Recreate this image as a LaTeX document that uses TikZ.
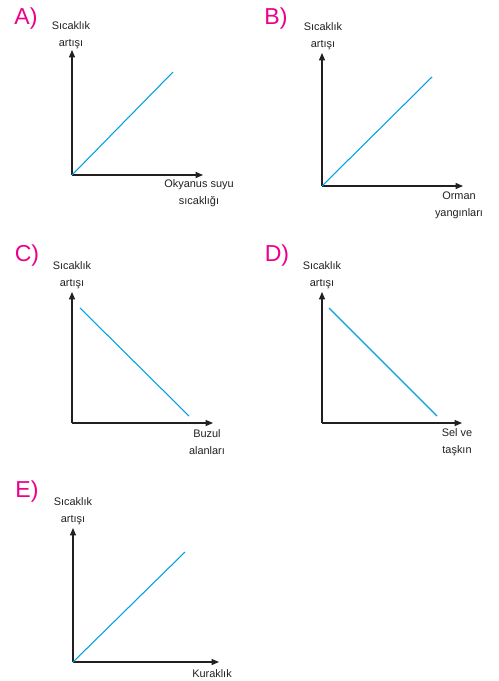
\documentclass[tikz,border=0pt]{standalone}
\usepackage{fontspec}
\setmainfont{Liberation Sans}
\usetikzlibrary{arrows.meta}
\definecolor{optpink}{RGB}{236,0,140}
\definecolor{graphblue}{RGB}{0,160,227}
\definecolor{axisgray}{RGB}{35,31,32}
\tikzset{
  axis/.style={draw=axisgray,line width=0.8pt,-{Triangle[length=5.5pt,width=4.5pt]}},
  trend/.style={draw=graphblue,line width=0.8pt},
  lbl/.style={align=center,inner sep=0pt,font=\fontsize{8.2}{12.75}\selectfont,text=axisgray},
  optletter/.style={inner sep=0pt,font=\fontsize{17.3}{19}\selectfont,text=optpink}
}
\begin{document}
\begin{tikzpicture}[x=0.75pt,y=-0.75pt]
\useasboundingbox (0,0) rectangle (499,681);

%%% A %%%
\node [optletter] at (26,18.5) (letterA) {A)};
\node [lbl] at (71,35) (ylabA) {Sıcaklık\\artışı};
\node [lbl] at (199,193.5) (xlabA) {Okyanus suyu\\sıcaklığı};
\coordinate (oA) at (72,175);
\coordinate (yA) at (72,50);
\coordinate (xA) at (203,175);
\coordinate (eA) at (173,72);
\draw [axis] (oA) -- (yA);
\draw [axis] (oA) -- (xA);
\draw [trend] (oA) -- (eA);

%%% B %%%
\node [optletter] at (276,18.5) (letterB) {B)};
\node [lbl] at (323,36.5) (ylabB) {Sıcaklık\\artışı};
\node [lbl] at (459,205.5) (xlabB) {Orman\\yangınları};
\coordinate (oB) at (322,186);
\coordinate (yB) at (322,53);
\coordinate (xB) at (463,186);
\coordinate (eB) at (432,77);
\draw [axis] (oB) -- (yB);
\draw [axis] (oB) -- (xB);
\draw [trend] (oB) -- (eB);

%%% C %%%
\node [optletter] at (27,255.5) (letterC) {C)};
\node [lbl] at (72,275.5) (ylabC) {Sıcaklık\\artışı};
\node [lbl] at (207,442) (xlabC) {Buzul\\alanları};
\coordinate (oC) at (72,423);
\coordinate (yC) at (72,292);
\coordinate (xC) at (213,423);
\coordinate (sC) at (80,308);
\coordinate (eC) at (189,416);
\draw [axis] (oC) -- (yC);
\draw [axis] (oC) -- (xC);
\draw [trend] (sC) -- (eC);

%%% D %%%
\node [optletter] at (277,255.5) (letterD) {D)};
\node [lbl] at (322,275.5) (ylabD) {Sıcaklık\\artışı};
\node [lbl] at (457,442) (xlabD) {Sel ve\\taşkın};
\coordinate (oD) at (322,423);
\coordinate (yD) at (322,292);
\coordinate (xD) at (462,423);
\coordinate (sD) at (329,308);
\coordinate (eD) at (437,416);
\draw [axis] (oD) -- (yD);
\draw [axis] (oD) -- (xD);
\draw [trend] (sD) -- (eD);

%%% E %%%
\node [optletter] at (27,491.5) (letterE) {E)};
\node [lbl] at (73,511.5) (ylabE) {Sıcaklık\\artışı};
\node [lbl] at (212,673.5) (xlabE) {Kuraklık};
\coordinate (oE) at (73,662);
\coordinate (yE) at (73,528);
\coordinate (xE) at (219,662);
\coordinate (eE) at (185,552);
\draw [axis] (oE) -- (yE);
\draw [axis] (oE) -- (xE);
\draw [trend] (oE) -- (eE);
\end{tikzpicture}
\end{document}
